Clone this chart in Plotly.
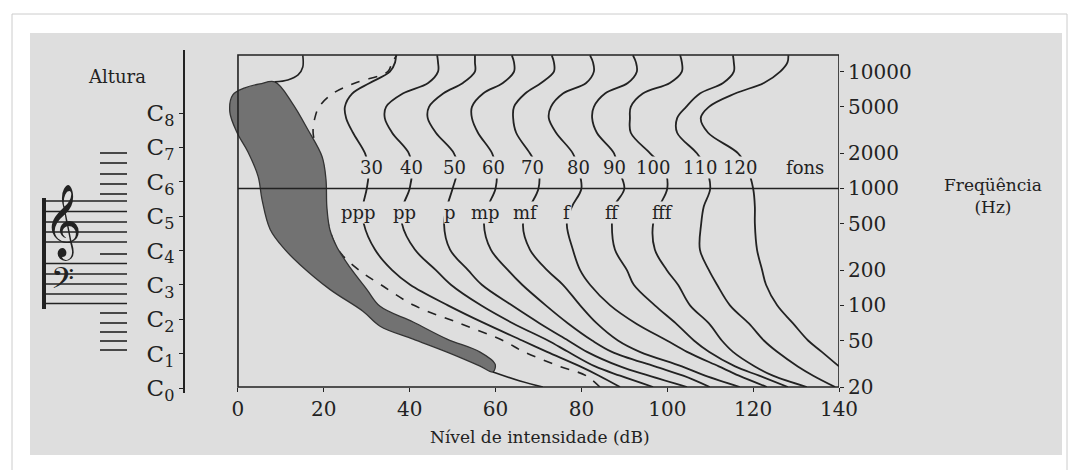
import numpy as np
import plotly.graph_objects as go

W, H = 1071, 470

# ---------------- data ----------------
FREQ = [20, 25, 30, 40, 50, 70, 100, 150, 200, 300, 500, 700, 1000, 1500,
        2000, 3000, 4000, 5000, 6500, 8000, 10000, 12000, 13800]

PHONS = [30, 40, 50, 60, 70, 80, 90, 100, 110, 120]
DB_30 = [89.0, 84.1, 79.7, 72.0, 66.2, 57.5, 48.9, 40.1, 35.9, 31.9, 29.3, 29.1, 30.0, 30.5, 29.6, 26.8, 25.2, 24.9, 26.6, 30.7, 35.4, 36.6, 36.8]
DB_40 = [96.7, 89.0, 83.2, 76.9, 72.2, 64.1, 56.6, 49.6, 46.1, 41.2, 38.2, 38.4, 40.0, 40.5, 39.8, 35.9, 34.2, 34.5, 38.4, 44.3, 46.6, 46.6, 46.4]
DB_50 = [104.6, 95.7, 89.0, 81.3, 76.9, 70.3, 63.8, 56.8, 53.6, 49.4, 48.0, 48.7, 50.0, 51.2, 50.3, 46.1, 44.2, 44.5, 47.8, 52.4, 55.2, 55.2, 55.2]
DB_60 = [109.9, 103.7, 97.1, 87.1, 82.5, 76.9, 71.7, 66.2, 62.9, 58.9, 57.3, 58.2, 60.0, 60.2, 59.2, 55.9, 54.5, 54.5, 57.1, 61.7, 64.3, 64.3, 63.8]
DB_70 = [116.9, 108.8, 103.4, 93.6, 88.5, 83.6, 79.7, 75.7, 72.0, 68.0, 66.4, 68.0, 70.0, 69.9, 68.0, 64.8, 64.1, 64.3, 66.9, 70.6, 73.6, 73.6, 73.1]
DB_80 = [123.2, 116.7, 112.0, 104.6, 99.9, 92.7, 86.7, 82.0, 79.7, 78.0, 76.6, 77.8, 80.0, 79.2, 78.0, 74.1, 72.4, 72.9, 75.7, 81.1, 82.9, 82.7, 82.0]
DB_90 = [128.1, 121.4, 115.8, 109.7, 106.2, 102.0, 97.1, 92.2, 90.6, 87.8, 87.1, 87.6, 90.0, 88.5, 87.6, 83.6, 82.5, 82.9, 85.5, 90.8, 92.9, 92.7, 92.0]
DB_100 = [132.5, 124.6, 120.4, 115.3, 112.7, 109.7, 105.3, 102.5, 99.9, 97.1, 96.7, 98.1, 100.0, 99.2, 96.0, 91.5, 91.3, 91.5, 94.3, 100.6, 103.4, 103.4, 103.0]
DB_110 = [139.1, 134.0, 130.4, 125.6, 122.5, 119.0, 114.6, 111.6, 109.7, 107.6, 107.9, 108.5, 110.0, 109.0, 106.9, 102.3, 102.3, 104.4, 107.6, 113.0, 115.5, 115.5, 115.3]
DB_120 = [None, None, 140.0, 136.0, 132.8, 129.3, 125.6, 123.0, 122.1, 120.9, 120.4, 120.4, 120.0, 118.6, 116.5, 109.5, 107.8, 109.7, 115.8, 122.5, 126.3, 128.0, 128.2]

# dashed threshold curve
DB_THRESH = [84.3, 81.1, 75.0, 66.6, 61.7, 51.7, 41.0, 33.3, 28.2, 23.3, 21.0, 20.5, 20.3, 19.8, 18.6, 17.5, 17.9, 18.9, 22.1, 27.3, 34.9, 35.9, 37.0]

# shaded region outline
SHADE_DB = [8.6, 12.6, 16.3, 19.6, 20.5, 20.7, 21.4, 23.1, 26.1, 30.0, 33.1, 40.8, 48.7, 56.4, 59.9,
            59.4, 56.4, 48.7, 40.8, 33.1, 29.1, 21.4, 14.4, 10.9, 7.5, 5.6, 4.7, 2.3, -0.2, -1.9, -1.2, 1.6, 5.1, 8.6]
SHADE_HZ = [8170, 5410, 3180, 1870, 1190, 700, 446, 313, 211, 137, 98, 72, 51.4, 39.8, 31.4,
            26.9, 30.2, 39.8, 51.4, 66.3, 89.1, 137, 224, 301, 446, 804, 1264, 2065, 3000, 4530, 6330, 7260, 7855, 8170]

UPPER_DB = [15.1, 15.1, 14.0, 11.6, 8.6]
UPPER_HZ = [13800, 10970, 9370, 8495, 8170]
TAIL_DB = [59.4, 65.7, 71.0]
TAIL_HZ = [26.9, 22.5, 20.0]

X_TICKS = [0, 20, 40, 60, 80, 100, 120, 140]
F_TICKS = [20, 50, 100, 200, 500, 1000, 2000, 5000, 10000]
C_FREQ = [16.35, 32.70, 65.41, 130.81, 261.63, 523.25, 1046.50, 2093.00, 4186.01]
C_LABELS = ["C<sub>%d</sub>" % i for i in range(9)]

PHON_TEXT = ["30", "40", "50", "60", "70", "80", "90", "100", "110", "120", "fons"]
PHON_LABEL_X = [31.0, 40.5, 50.5, 59.6, 68.5, 79.4, 87.8, 96.7, 107.6, 116.9, 132.1]
DYN_TEXT = ["ppp", "pp", "p", "mp", "mf", "f", "ff", "fff"]
DYN_X = [28.0, 38.9, 49.4, 57.6, 66.9, 76.6, 87.1, 98.8]

# ---------------- figure ----------------
INK = "#222222"
BG = "#dedede"
SERIF = "DejaVu Serif, Liberation Serif, serif"


def P(px, py):
    return px / W, 1 - py / H


fig = go.Figure()

fig.add_trace(go.Scatter(x=DB_THRESH, y=FREQ, mode="lines", line=dict(color=INK, width=1.6, dash="dash", shape="spline"),
                         hoverinfo="skip", showlegend=False))
fig.add_trace(go.Scatter(x=SHADE_DB, y=SHADE_HZ, mode="lines", fill="toself", fillcolor="#727272",
                         line=dict(color="#333333", width=1.3, shape="spline"), hoverinfo="skip", showlegend=False))
fig.add_trace(go.Scatter(x=TAIL_DB, y=TAIL_HZ, mode="lines", line=dict(color=INK, width=1.6, shape="spline"),
                         hoverinfo="skip", showlegend=False))
fig.add_trace(go.Scatter(x=UPPER_DB, y=UPPER_HZ, mode="lines", line=dict(color=INK, width=1.6, shape="spline"),
                         hoverinfo="skip", showlegend=False))

curves = [DB_30, DB_40, DB_50, DB_60, DB_70, DB_80, DB_90, DB_100, DB_110, DB_120]
for ph, db in zip(PHONS, curves):
    fig.add_trace(go.Scatter(x=db, y=FREQ, mode="lines", name=f"{ph} fons",
                             line=dict(color=INK, width=1.8, shape="spline"), hoverinfo="skip", showlegend=False))

fig.add_trace(go.Scatter(x=[0, 140], y=[1000, 1000], mode="lines", line=dict(color=INK, width=1.6),
                         hoverinfo="skip", showlegend=False))

# dummy trace carrying the pitch (C) axis
fig.add_trace(go.Scatter(x=[0.5], y=[1000], xaxis="x2", yaxis="y2", mode="markers",
                         marker=dict(opacity=0), hoverinfo="skip", showlegend=False))

annotations = []
for t, x in zip(PHON_TEXT, PHON_LABEL_X):
    annotations.append(dict(x=x, y=np.log10(1500), xref="x", yref="y", text=t, showarrow=False,
                            xanchor="center", yanchor="middle",
                            font=dict(family=SERIF, size=18, color=INK), bgcolor=BG, borderpad=0))
for t, x in zip(DYN_TEXT, DYN_X):
    annotations.append(dict(x=x, y=np.log10(620), xref="x", yref="y", text=t, showarrow=False,
                            xanchor="center", yanchor="middle",
                            font=dict(family=SERIF, size=18, color=INK), bgcolor=BG, borderpad=0))


def label(px, py, text, size, family=SERIF):
    ax, ay = P(px, py)
    annotations.append(dict(x=ax, y=ay, xref="paper", yref="paper", text=text, showarrow=False,
                            xanchor="center", yanchor="middle", align="center",
                            font=dict(family=family, size=size, color=INK)))


label(117, 76, "Altura", 18)
label(993, 196, "Freqüência<br>(Hz)", 17)
label(540, 437, "Nível de intensidade (dB)", 17)
label(63, 222, "\U0001D11E", 64, "DejaVu Sans, Noto Sans, sans-serif")
label(62, 281, "\U0001D122", 36, "DejaVu Sans, Noto Sans, sans-serif")

shapes = []
x0, y0 = P(12, 14)
x1, y1 = P(1067, 472)
shapes.append(dict(type="rect", xref="paper", yref="paper", x0=x0, y0=y1, x1=x1, y1=y0,
                   line=dict(color="#cccccc", width=1), fillcolor="white", layer="below"))
x0, y0 = P(30, 33)
x1, y1 = P(1062, 455)
shapes.append(dict(type="rect", xref="paper", yref="paper", x0=x0, y0=y1, x1=x1, y1=y0,
                   line=dict(width=0), fillcolor=BG, layer="below"))
shapes.append(dict(type="rect", xref="x", yref="y domain", x0=0, x1=140, y0=0, y1=1,
                   line=dict(color=INK, width=1.6)))


def hline(xa, xb, y, w=1.6):
    a, b = P(xa, y)
    c, _ = P(xb, y)
    shapes.append(dict(type="line", xref="paper", yref="paper", x0=a, x1=c, y0=b, y1=b,
                       line=dict(color=INK, width=w)))


for y in [153, 163, 174, 184, 194]:
    hline(100, 127, y)
for y in [201, 211.5, 222, 232, 242]:
    hline(43, 127, y)
hline(100, 127, 254)
for y in [263.5, 274, 284, 294, 303.5]:
    hline(43, 127, y)
for y in [313, 323, 332, 341, 350]:
    hline(100, 127, y)
a, b = P(44, 198)
_, c = P(44, 309)
shapes.append(dict(type="line", xref="paper", yref="paper", x0=a, x1=a, y0=b, y1=c,
                   line=dict(color=INK, width=4)))

fig.update_layout(
    width=W, height=H,
    margin=dict(l=0, r=0, t=0, b=0),
    paper_bgcolor="white",
    plot_bgcolor="rgba(0,0,0,0)",
    showlegend=False,
    xaxis=dict(domain=[225.1 / W, 839 / W], range=[-3, 140], anchor="y",
               tickvals=X_TICKS, ticks="outside", ticklen=4, tickcolor=INK,
               showgrid=False, zeroline=False, showline=False, automargin=False,
               tickfont=dict(family=SERIF, size=20, color=INK)),
    yaxis=dict(domain=[83 / H, 415 / H], type="log", range=[np.log10(20), 4.1425], anchor="x",
               side="right", tickvals=F_TICKS, ticktext=[str(v) for v in F_TICKS],
               ticks="outside", ticklen=4, tickcolor=INK, showgrid=False, zeroline=False,
               showline=False, automargin=False,
               tickfont=dict(family=SERIF, size=20, color=INK)),
    xaxis2=dict(domain=[185 / W, 186 / W], range=[0, 1], anchor="y2", visible=False),
    yaxis2=dict(domain=[77 / H, 420 / H], type="log", range=[1.1697, 4.1735], anchor="x2",
                side="left", tickvals=C_FREQ, ticktext=C_LABELS, ticks="outside", ticklen=4,
                tickcolor=INK, showline=True, linecolor=INK, linewidth=2, showgrid=False,
                zeroline=False, automargin=False,
                tickfont=dict(family=SERIF, size=23, color=INK)),
    annotations=annotations,
    shapes=shapes,
)

fig.write_html("out.html", config={"displayModeBar": False},
               post_script="document.body.style.margin='0px';document.body.style.overflow='hidden';")
